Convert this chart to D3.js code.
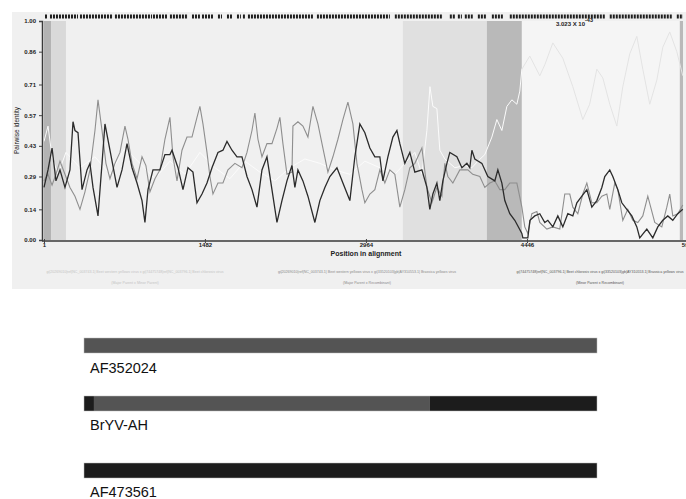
<!DOCTYPE html>
<html>
<head>
<meta charset="utf-8">
<script src="https://cdn.jsdelivr.net/npm/d3@7"></script>
<style>
  body { margin: 0; background: #fff; }
  text { font-family: "Liberation Sans", Arial, sans-serif; }
</style>
</head>
<body>
<script>
const width = 686, height = 499;

// pairwise identity, [position in alignment, identity]
const minorVsRecomb = [
  [1,0.24],[38,0.32],[75,0.42],[111,0.27],[148,0.32],[194,0.24],[240,0.32],[268,0.54],[286,0.50],[314,0.49],
  [351,0.23],[397,0.32],[424,0.35],[452,0.24],[498,0.11],[535,0.35],[562,0.53],[608,0.41],[673,0.24],[719,0.32],
  [765,0.44],[811,0.33],[857,0.26],[903,0.18],[930,0.08],[958,0.23],[1004,0.32],[1068,0.32],[1114,0.39],[1160,0.39],
  [1179,0.41],[1234,0.33],[1280,0.23],[1326,0.33],[1372,0.31],[1409,0.17],[1455,0.21],[1501,0.26],[1547,0.33],[1602,0.40],
  [1648,0.41],[1685,0.45],[1731,0.41],[1777,0.38],[1823,0.38],[1869,0.29],[1915,0.23],[1961,0.15],[2007,0.32],[2053,0.38],
  [2099,0.23],[2145,0.08],[2191,0.18],[2237,0.27],[2283,0.34],[2310,0.24],[2338,0.32],[2384,0.27],[2430,0.20],[2494,0.08],
  [2540,0.18],[2586,0.24],[2632,0.29],[2697,0.33],[2752,0.26],[2816,0.18],[2862,0.38],[2908,0.53],[2954,0.49],[3000,0.42],
  [3046,0.38],[3092,0.38],[3120,0.27],[3166,0.38],[3212,0.47],[3249,0.50],[3276,0.44],[3322,0.35],[3368,0.40],[3414,0.31],
  [3479,0.32],[3525,0.24],[3552,0.14],[3580,0.21],[3617,0.26],[3644,0.18],[3672,0.27],[3709,0.35],[3736,0.40],[3801,0.38],
  [3847,0.33],[3893,0.35],[3920,0.33],[3939,0.41],[3966,0.37],[4031,0.35],[4086,0.29],[4150,0.27],[4178,0.32],[4215,0.26],
  [4242,0.18],[4288,0.12],[4334,0.09],[4399,0.03],[4408,0.01],[4454,0.01],[4473,0.09],[4518,0.11],[4564,0.12],[4610,0.08],
  [4638,0.09],[4684,0.06],[4730,0.11],[4776,0.06],[4822,0.12],[4868,0.11],[4905,0.17],[4951,0.20],[4997,0.23],[5043,0.15],
  [5089,0.18],[5135,0.24],[5162,0.29],[5208,0.32],[5236,0.29],[5282,0.23],[5319,0.17],[5365,0.14],[5411,0.11],[5457,0.06],
  [5484,0.01],[5549,0.05],[5604,0.01],[5650,0.06],[5696,0.09],[5742,0.11],[5788,0.09],[5834,0.12],[5880,0.14]
];
const majorVsRecomb = [
  [1,0.27],[38,0.30],[75,0.25],[111,0.30],[148,0.36],[194,0.30],[240,0.24],[286,0.20],[332,0.14],[378,0.22],
  [424,0.32],[470,0.50],[498,0.64],[535,0.50],[571,0.35],[608,0.28],[654,0.35],[700,0.40],[746,0.52],[774,0.46],
  [811,0.35],[857,0.28],[903,0.38],[939,0.34],[976,0.22],[1022,0.28],[1068,0.32],[1114,0.46],[1160,0.56],[1188,0.38],
  [1225,0.27],[1271,0.41],[1317,0.47],[1363,0.47],[1409,0.56],[1436,0.61],[1464,0.53],[1501,0.40],[1528,0.29],[1556,0.21],
  [1602,0.26],[1648,0.26],[1694,0.32],[1758,0.35],[1823,0.33],[1869,0.40],[1915,0.50],[1942,0.58],[1970,0.46],[2007,0.38],
  [2053,0.44],[2099,0.44],[2145,0.51],[2172,0.56],[2200,0.44],[2237,0.30],[2283,0.31],[2292,0.52],[2338,0.54],[2384,0.52],
  [2430,0.47],[2476,0.61],[2522,0.53],[2568,0.42],[2614,0.31],[2660,0.38],[2706,0.46],[2752,0.55],[2798,0.63],[2844,0.53],
  [2881,0.35],[2927,0.23],[2954,0.17],[3000,0.21],[3046,0.23],[3092,0.32],[3138,0.26],[3184,0.32],[3230,0.30],[3276,0.15],
  [3322,0.23],[3368,0.33],[3414,0.35],[3479,0.42],[3525,0.24],[3571,0.17],[3617,0.24],[3663,0.20],[3690,0.35],[3718,0.29],
  [3764,0.26],[3828,0.32],[3902,0.32],[3947,0.30],[4012,0.29],[4058,0.24],[4104,0.26],[4150,0.27],[4196,0.23],[4242,0.23],
  [4288,0.26],[4353,0.26],[4399,0.15],[4426,0.06],[4454,0.03],[4491,0.12],[4537,0.13],[4564,0.08],[4629,0.05],[4684,0.06],
  [4748,0.05],[4794,0.21],[4840,0.21],[4868,0.15],[4914,0.12],[4960,0.21],[4997,0.26],[5043,0.17],[5089,0.17],[5135,0.20],
  [5181,0.21],[5208,0.14],[5254,0.26],[5282,0.23],[5328,0.09],[5374,0.14],[5420,0.09],[5466,0.08],[5512,0.11],[5558,0.20],
  [5622,0.08],[5687,0.06],[5733,0.15],[5760,0.21],[5788,0.11],[5834,0.12],[5880,0.16]
];
const majorVsMinor = [
  [1,0.45],[38,0.52],[75,0.38],[130,0.30],[203,0.40],[332,0.33],[470,0.38],[608,0.30],[746,0.42],[884,0.35],
  [1022,0.28],[1160,0.36],[1298,0.30],[1436,0.40],[1574,0.33],[1712,0.28],[1850,0.36],[1988,0.31],[2126,0.27],[2264,0.33],
  [2402,0.37],[2540,0.35],[2678,0.32],[2816,0.30],[2954,0.36],[3092,0.33],[3230,0.30],[3322,0.35],[3414,0.40],[3479,0.30],
  [3525,0.50],[3553,0.70],[3580,0.61],[3617,0.60],[3644,0.41],[3690,0.37],[3782,0.33],[3874,0.34],[3939,0.33],[3994,0.36],
  [4058,0.39],[4123,0.47],[4169,0.55],[4215,0.50],[4261,0.61],[4307,0.64],[4353,0.62],[4380,0.68],[4399,0.78],[4472,0.84],
  [4564,0.75],[4610,0.80],[4684,0.90],[4776,0.83],[4868,0.70],[4960,0.55],[5023,0.62],[5089,0.78],[5144,0.74],[5208,0.62],
  [5273,0.52],[5328,0.70],[5392,0.85],[5457,0.93],[5512,0.78],[5576,0.62],[5641,0.73],[5696,0.88],[5760,0.95],[5825,0.86],
  [5880,0.75]
];

// shaded windows [start, end, fill]
const regionStarts = [1, 66, 3304, 4077, 4399, 5853];
const regionEnds   = [66, 203, 4077, 4399, 5853, 5882];
const regionFills  = ["#b3b3b3", "#d9d9d9", "#e0e0e0", "#b9b9b9", "#f5f5f5", "#b9b9b9"];

// runs of informative sites along the top
const siteRuns = [
  [10,29],[56,314],[332,636],[654,995],[1004,1142],[1160,1326],[1363,1436],[1455,1556],[1602,1639],[1685,1740],
  [1777,1813],[1832,1850],[1878,2476],[2513,3184],[3230,3672],[3736,3782],[3810,3847],[3874,3947],[3994,4077],
  [4123,4224],[4288,5162],[5208,5788],[5825,5882]
];

const yTicks = [0, 0.14, 0.29, 0.43, 0.57, 0.71, 0.86, 1.00];
const xTicks = [1, 1482, 2964, 4446, 5928];
const alignLength = 5882;

const pairNames = [
  "gi|20269010|ref|NC_003743.1| Beet western yellows virus  x  gi|74475748|ref|NC_003796.1| Beet chlorosis virus",
  "gi|20269010|ref|NC_003743.1| Beet western yellows virus  x  gi|33520103|gb|AY310553.1| Brassica yellows virus",
  "gi|74475748|ref|NC_003796.1| Beet chlorosis virus  x  gi|33520103|gb|AY310553.1| Brassica yellows virus"
];
const pairRoles = ["(Major Parent x Minor Parent)", "(Major Parent x Recombinant)", "(Minor Parent x Recombinant)"];

// genome bars below the plot
const seqNames = ["AF352024", "BrYV-AH", "AF473561"];
const seqStarts = [[1], [1, 115, 3967], [1]];
const seqEnds   = [[5882], [115, 3967, 5882], [5882]];
const seqOrigin = [["major"], ["minor", "major", "minor"], ["minor"]];

const svg = d3.select("body").append("svg")
    .attr("width", width)
    .attr("height", height);

svg.append("rect").attr("width", width).attr("height", height).attr("fill", "#fff");
svg.append("rect")
    .attr("x", 12).attr("y", 12)
    .attr("width", width - 12).attr("height", 277)
    .attr("fill", "#f0f0f0");

var x = d3.scaleLinear().domain([1, alignLength]).range([44, 683]);
var y = d3.scaleLinear().domain([0, 1]).range([240, 21]);

svg.append("defs").append("clipPath")
    .attr("id", "panelclip")
    .append("rect").attr("x", 12).attr("y", 12).attr("width", width - 12).attr("height", 277);

var plot = svg.append("g").attr("clip-path", "url(#panelclip)");

plot.selectAll(".region")
    .data(regionStarts)
    .enter()
    .append("rect")
    .attr("class", "region")
    .attr("x", d => x(d))
    .attr("width", (d, i) => x(regionEnds[i]) - x(d))
    .attr("y", y(1))
    .attr("height", y(0) - y(1))
    .attr("fill", (d, i) => regionFills[i]);

plot.selectAll(".sites")
    .data(siteRuns)
    .enter()
    .append("line")
    .attr("class", "sites")
    .attr("x1", d => x(d[0]))
    .attr("x2", d => x(d[1]))
    .attr("y1", 16.5)
    .attr("y2", 16.5)
    .attr("stroke", "#1e1e1e")
    .attr("stroke-width", 4)
    .attr("stroke-dasharray", "2,1");

var line = d3.line()
    .x(d => x(d[0]))
    .y(d => y(d[1]));

// light trace: white over the shaded windows, pale grey over the plain background
var defs = svg.select("defs");
var grad = defs.append("linearGradient")
    .attr("id", "lightgrad")
    .attr("gradientUnits", "userSpaceOnUse")
    .attr("x1", 0).attr("x2", width).attr("y1", 0).attr("y2", 0);
grad.append("stop").attr("offset", x(4399) / width).attr("stop-color", "#fbfbfb");
grad.append("stop").attr("offset", x(4399) / width).attr("stop-color", "#e3e3e3");

plot.append("path")
    .datum(majorVsMinor)
    .attr("fill", "none")
    .attr("stroke", "url(#lightgrad)")
    .attr("stroke-width", 1)
    .attr("d", line);

plot.append("path")
    .datum(majorVsRecomb)
    .attr("fill", "none")
    .attr("stroke", "#8e8e8e")
    .attr("stroke-width", 1.1)
    .attr("d", line);

plot.append("path")
    .datum(minorVsRecomb)
    .attr("fill", "none")
    .attr("stroke", "#2b2b2b")
    .attr("stroke-width", 1.3)
    .attr("d", line);

// axes
var yAxis = d3.axisLeft(y)
    .tickValues(yTicks)
    .tickFormat(d3.format(".2f"))
    .tickSize(3);
var yg = svg.append("g")
    .attr("transform", "translate(42,0)")
    .call(yAxis);
yg.select(".domain").attr("stroke", "#3a3a3a").attr("stroke-width", 1.5);
yg.selectAll(".tick line").attr("stroke", "#444");
yg.selectAll(".tick text")
    .attr("font-size", 6)
    .attr("font-weight", "bold")
    .attr("fill", "#222")
    .attr("x", -6);

var xAxis = d3.axisBottom(x)
    .tickValues(xTicks)
    .tickFormat(d3.format("d"))
    .tickSize(2);
var xg = svg.append("g")
    .attr("transform", "translate(0,241)")
    .call(xAxis);
xg.select(".domain").attr("d", "M42,0H" + width).attr("stroke", "#3a3a3a").attr("stroke-width", 1.5);
xg.selectAll(".tick line").attr("stroke", "#444").attr("y1", -2);
xg.selectAll(".tick text")
    .attr("font-size", 6)
    .attr("font-weight", "bold")
    .attr("fill", "#222")
    .attr("y", 2);

svg.append("text")
    .attr("transform", "translate(19," + y(0.5) + ") rotate(-90)")
    .style("text-anchor", "middle")
    .attr("font-size", 6.5)
    .attr("fill", "#222")
    .text("Pairwise identity");

svg.append("text")
    .attr("x", x(2964))
    .attr("y", 256)
    .style("text-anchor", "middle")
    .attr("font-size", 7)
    .attr("font-weight", "bold")
    .attr("fill", "#222")
    .text("Position in alignment");

var pval = svg.append("text")
    .attr("x", 556)
    .attr("y", 26)
    .attr("font-size", 6)
    .attr("font-weight", "bold")
    .attr("fill", "#222");
pval.append("tspan").text("3.023 X 10");
pval.append("tspan").attr("dy", -4).attr("font-size", 5.5).text("-43");

// pair legend under the axis
var pairX = [135, 367, 600];
var pairFill = ["#c4c4c4", "#8a8a8a", "#555"];
var pairs = svg.selectAll(".pair")
    .data(pairNames)
    .enter()
    .append("g")
    .attr("class", "pair")
    .attr("clip-path", "url(#panelclip)");
pairs.append("text")
    .attr("x", (d, i) => pairX[i])
    .attr("y", 273)
    .style("text-anchor", "middle")
    .attr("font-size", 3.6)
    .attr("fill", (d, i) => pairFill[i])
    .text(d => d);
pairs.append("text")
    .attr("x", (d, i) => pairX[i])
    .attr("y", 284)
    .style("text-anchor", "middle")
    .attr("font-size", 3.6)
    .attr("fill", (d, i) => pairFill[i])
    .text((d, i) => pairRoles[i]);

// genome bars
var bx = d3.scaleLinear().domain([1, alignLength]).range([84, 597]);
var barY = [338, 396, 463];
var originFill = { major: "#545454", minor: "#1c1c1c" };

var bars = svg.selectAll(".seq")
    .data(seqNames)
    .enter()
    .append("g")
    .attr("class", "seq")
    .attr("transform", (d, i) => "translate(0," + barY[i] + ")");

bars.selectAll("rect")
    .data((d, i) => seqStarts[i].map((s, j) => ({ s: s, e: seqEnds[i][j], o: seqOrigin[i][j] })))
    .enter()
    .append("rect")
    .attr("x", d => bx(d.s))
    .attr("width", d => bx(d.e) - bx(d.s))
    .attr("y", 0)
    .attr("height", 15)
    .attr("fill", d => originFill[d.o]);

bars.append("rect")
    .attr("x", bx(1))
    .attr("width", bx(alignLength) - bx(1))
    .attr("height", 15)
    .attr("fill", "none")
    .attr("stroke", "#bbb")
    .attr("stroke-width", 0.5);

bars.append("text")
    .attr("x", 90)
    .attr("y", (d, i) => [35, 34, 34][i])
    .attr("font-size", 14.5)
    .attr("fill", "#111")
    .text(d => d);
</script>
</body>
</html>
